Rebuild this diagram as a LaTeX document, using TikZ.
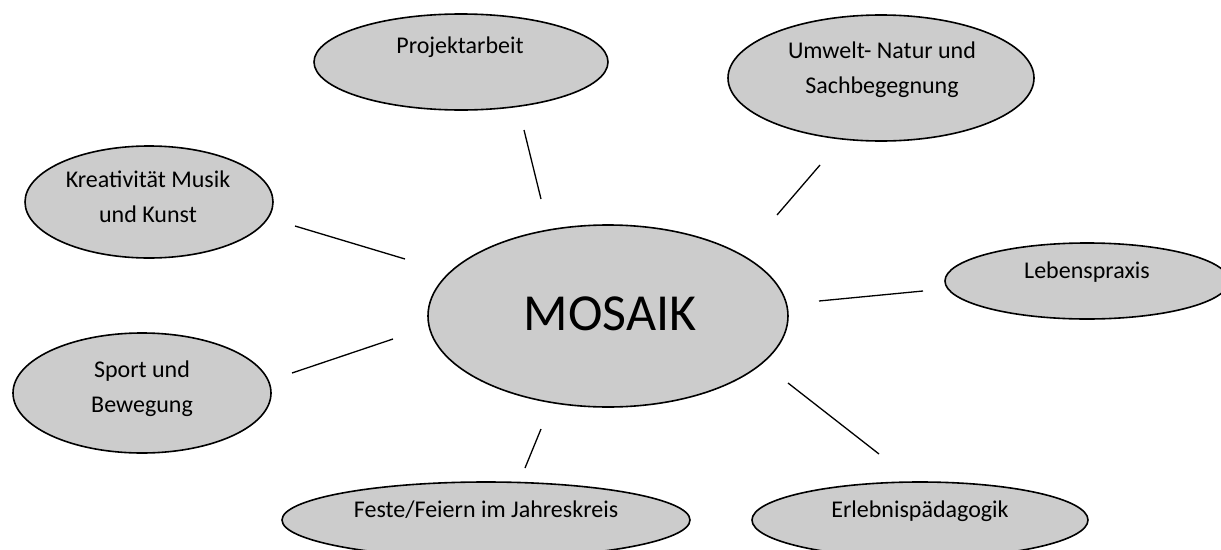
\documentclass[tikz,border=0pt]{standalone}
\usepackage{fontspec}
\setmainfont{Carlito}
\usetikzlibrary{shapes.geometric}
\definecolor{blobgray}{HTML}{CCCCCC}
\tikzset{
  blob/.style={ellipse, draw=black, line width=1.6pt, fill=blobgray, inner sep=0pt},
  txt/.style={anchor=base, inner sep=0pt, align=center, font=\fontsize{24}{35}\selectfont},
  big/.style={anchor=base, inner sep=0pt, font=\fontsize{52}{60}\selectfont},
  link/.style={line width=1.3pt, draw=black}
}
\begin{document}
\begin{tikzpicture}[x=1pt,y=-1pt]
\useasboundingbox (0,0) rectangle (1221,549);
\clip (0,0) rectangle (1221,549);
% ellipses
\node[blob, minimum width=294pt, minimum height=96pt] (proj) at (461,62) {};
\node[blob, minimum width=306pt, minimum height=126pt] (umw) at (881,78) {};
\node[blob, minimum width=248pt, minimum height=112pt] (krea) at (149,202) {};
\node[blob, minimum width=258pt, minimum height=120pt] (sport) at (142,393) {};
\node[blob, minimum width=360pt, minimum height=182pt] (mos) at (608,316) {};
\node[blob, minimum width=284pt, minimum height=76pt] (leb) at (1087,281) {};
\node[blob, minimum width=408pt, minimum height=76pt] (fest) at (486,520) {};
\node[blob, minimum width=336pt, minimum height=76pt] (erl) at (920,520) {};
% texts (multi-line nodes: base = last line's baseline)
\node[txt] (projt) at (460,53) {Projektarbeit};
\node[txt] (umwt) at (882,93) {Umwelt- Natur und\\Sachbegegnung};
\node[txt] (kreat) at (148,222) {Kreativität Musik\\und Kunst};
\node[txt] (sportt) at (142,412) {Sport und\\Bewegung};
\node[big] (most) at (610,330) {MOSAIK};
\node[txt] (lebt) at (1087,278) {Lebenspraxis};
\node[txt] (festt) at (486,517) {Feste/Feiern im Jahreskreis};
\node[txt] (erlt) at (920,517) {Erlebnispädagogik};
% connector end points
\coordinate (p1) at (524,130); \coordinate (p2) at (541,199);
\coordinate (u1) at (820,165); \coordinate (u2) at (777,215);
\coordinate (k1) at (295,226); \coordinate (k2) at (405,259);
\coordinate (l1) at (923,291); \coordinate (l2) at (819,301);
\coordinate (s1) at (292,373); \coordinate (s2) at (393,339);
\coordinate (f1) at (525,468); \coordinate (f2) at (541,429);
\coordinate (e1) at (879,454); \coordinate (e2) at (788,383);
\draw[link] (p1) -- (p2);
\draw[link] (u1) -- (u2);
\draw[link] (k1) -- (k2);
\draw[link] (l1) -- (l2);
\draw[link] (s1) -- (s2);
\draw[link] (f1) -- (f2);
\draw[link] (e1) -- (e2);
\end{tikzpicture}
\end{document}
